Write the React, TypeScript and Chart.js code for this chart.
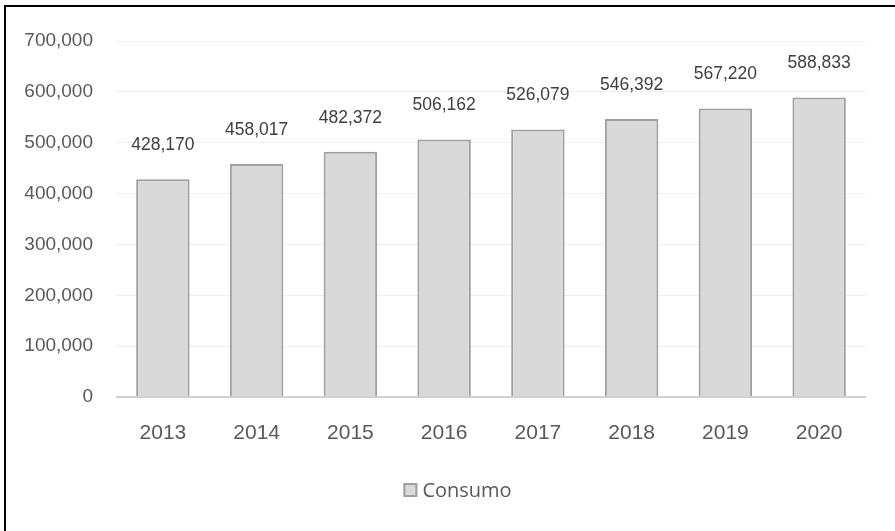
import React, { useEffect, useRef } from "react";
import { Chart, registerables } from "chart.js";

Chart.register(...registerables);

const years = ["2013", "2014", "2015", "2016", "2017", "2018", "2019", "2020"];
const consumo = [428170, 458017, 482372, 506162, 526079, 546392, 567220, 588833];
const seriesName = "Consumo";
const yMax = 700000;
const yStep = 100000;

const SANS = "'Liberation Sans', Arial, sans-serif";
const LEGEND_FONT = "'Open Sans', 'Noto Sans', sans-serif";

const fmt = (v: number) => v.toLocaleString("en-US");

const framePlugin = {
  id: "frame",
  afterDraw(chart: any) {
    const ctx = chart.ctx;
    ctx.save();
    ctx.fillStyle = "#000000";
    ctx.fillRect(4, 5, 2, chart.height - 5);
    ctx.fillRect(4, 5, chart.width - 4, 2);
    ctx.restore();
  },
};

const labelPlugin = {
  id: "barLabels",
  afterDatasetsDraw(chart: any) {
    const ctx = chart.ctx;
    const meta = chart.getDatasetMeta(0);
    const data = chart.data.datasets[0].data as number[];
    ctx.save();
    ctx.font = `17.5px ${SANS}`;
    ctx.fillStyle = "#404040";
    ctx.textAlign = "center";
    ctx.textBaseline = "middle";
    meta.data.forEach((el: any, i: number) => {
      ctx.fillText(fmt(data[i]), el.x, el.y - 34);
    });
    ctx.restore();
  },
};

const legendPlugin = {
  id: "customLegend",
  afterDraw(chart: any) {
    const ctx = chart.ctx;
    const ds = chart.data.datasets[0];
    ctx.save();
    ctx.font = `20px ${LEGEND_FONT}`;
    const label = ds.label as string;
    const tw = ctx.measureText(label).width;
    const box = 14;
    const gap = 5;
    const total = box + gap + tw;
    const cx = chart.width / 2 + 10;
    const cy = chart.chartArea.bottom + 93;
    const x0 = cx - total / 2;
    ctx.fillStyle = ds.backgroundColor;
    ctx.fillRect(x0, cy - box / 2, box, box);
    ctx.strokeStyle = ds.borderColor;
    ctx.lineWidth = 2;
    ctx.strokeRect(x0 + 1, cy - box / 2 + 1, box - 2, box - 2);
    ctx.fillStyle = "#595959";
    ctx.textAlign = "left";
    ctx.textBaseline = "middle";
    ctx.fillText(label, x0 + box + gap, cy + 1);
    ctx.restore();
  },
};

export default function App() {
  const ref = useRef<HTMLCanvasElement>(null);
  useEffect(() => {
    document.body.style.margin = "0";
    const chart = new Chart(ref.current!, {
      type: "bar",
      data: {
        labels: years,
        datasets: [
          {
            label: seriesName,
            data: consumo,
            backgroundColor: "#d9d9d9",
            borderColor: "#a0a0a0",
            borderWidth: 2,
            categoryPercentage: 1,
            barPercentage: 0.57,
          },
        ],
      },
      options: {
        animation: false,
        responsive: false,
        layout: { padding: { left: 0, right: 29, top: 41, bottom: 60 } },
        plugins: {
          tooltip: { enabled: false },
          legend: { display: false },
        },
        scales: {
          x: {
            grid: { display: false },
            border: { display: false },
            ticks: {
              color: "#595959",
              padding: 16,
              font: { family: SANS, size: 21 },
            },
            afterFit(s: any) {
              s.height = 74;
            },
          },
          y: {
            min: 0,
            max: yMax,
            border: { display: false },
            grid: {
              drawTicks: false,
              color: (c: any) => (c.tick && c.tick.value === 0 ? "#d0d0d0" : "#efefef"),
              lineWidth: (c: any) => (c.tick && c.tick.value === 0 ? 2 : 1),
            },
            ticks: {
              stepSize: yStep,
              color: "#595959",
              padding: 23,
              font: { family: SANS, size: 19 },
              callback: (v: any) => fmt(Number(v)),
            },
            afterFit(s: any) {
              s.width = 116;
            },
          },
        },
      },
      plugins: [labelPlugin, legendPlugin, framePlugin],
    });
    return () => chart.destroy();
  }, []);
  return <canvas ref={ref} width={895} height={531} style={{ display: "block" }} />;
}
